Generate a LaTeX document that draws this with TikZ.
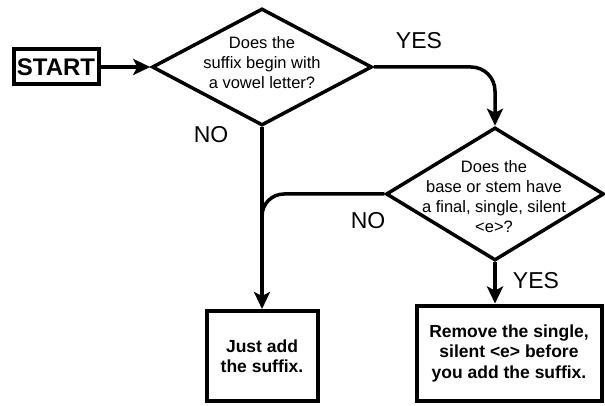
\documentclass[tikz,border=0pt]{standalone}
\usepackage{fontspec}
\setmainfont{Liberation Sans}
\usetikzlibrary{shapes.geometric}
\usetikzlibrary{arrows.meta}

\tikzset{
  box/.style={draw, line width=4pt, align=center, inner sep=0pt,
    font=\bfseries\fontsize{17.5}{20.5}\selectfont},
  test/.style={draw, diamond, line width=3.5pt, inner sep=0pt},
  ask/.style={align=center, inner sep=0pt, font=\fontsize{16.5}{20}\selectfont},
  answer/.style={inner sep=0pt, font=\fontsize{23}{25}\selectfont},
  line/.style={line width=3.5pt},
  go/.style={line, -{Stealth[length=17pt,width=16pt,inset=4pt]}},
}

\begin{document}
\begin{tikzpicture}[x=1pt, y=-1pt]
\useasboundingbox (0,0) rectangle (605,406);

% boxes and questions
\node[box, font=\bfseries\fontsize{24}{26}\selectfont,
  minimum width=85pt, minimum height=35pt] (start) at (56,67) {START};
\node[test, minimum width=220pt, minimum height=117pt] (q1) at (262,67) {};
\node[ask] (q1text) at (262,63) {Does the\\suffix begin with\\a vowel letter?};
\node[test, minimum width=218pt, minimum height=133pt] (q2) at (495,194) {};
\node[ask] (q2text) at (494,197) {Does the\\base or stem have\\a final, single, silent\\<e>?};
\node[box, minimum width=111pt, minimum height=90pt] (just) at (262,356) {Just add\\the suffix.};
\node[box, minimum width=185pt, minimum height=95pt] (remove) at (509,353)
  {Remove the single,\\silent <e> before\\you add the suffix.};

% answers
\node[answer] (yes1) at (419,41) {YES};
\node[answer] (no1) at (211,135) {NO};
\node[answer] (no2) at (368,221) {NO};
\node[answer] (yes2) at (536,281) {YES};

% connectors
\coordinate (merge) at (q1.south |- q2.south);
\draw[go] (start.east) -- (q1.west);
\draw[go, rounded corners=24pt] (q1.east) -| (q2.north);
\draw[go] (q1.south) -- (q1.south |- just.north);
\draw[line, rounded corners=22pt] (q2.west) -| (merge);
\draw[go] (q2.south) -- (q2.south |- remove.north);
\end{tikzpicture}
\end{document}
